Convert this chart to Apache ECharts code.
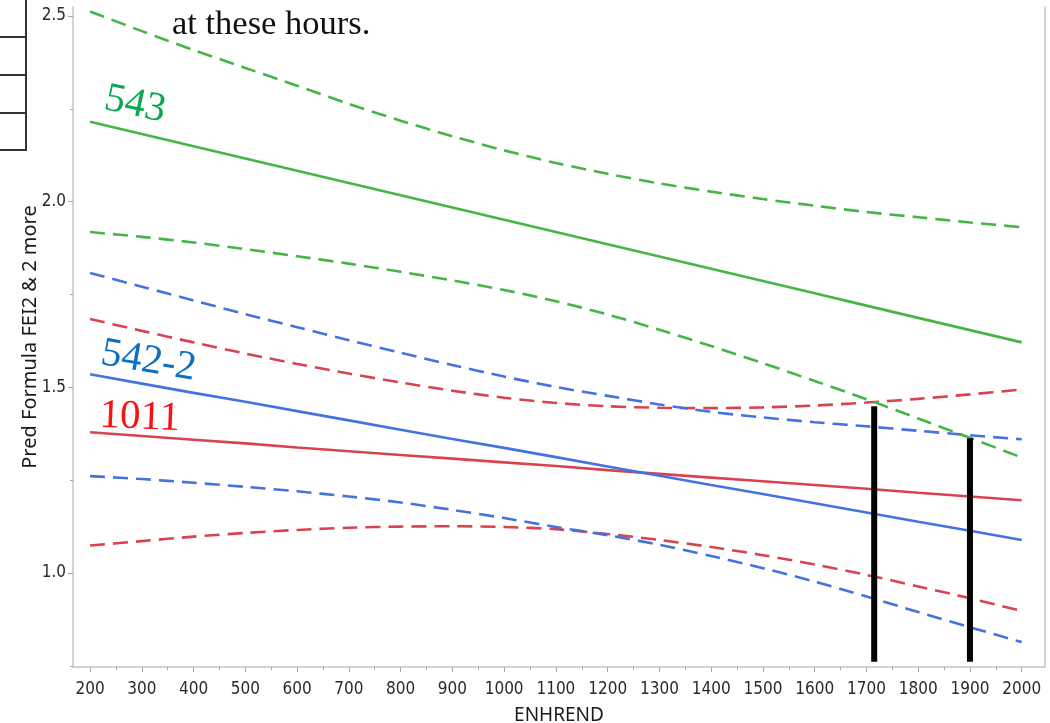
<!DOCTYPE html>
<html>
<head>
<meta charset="utf-8">
<script src="https://cdn.jsdelivr.net/npm/echarts@6/dist/echarts.min.js"></script>
<style>
html,body{margin:0;padding:0;background:#fff;}
#chart{width:1050px;height:723px;}
</style>
</head>
<body>
<div id="chart"></div>
<script>
// ENHREND values (x)
const enhrend = [200,300,400,500,600,700,800,900,1000,1100,1200,1300,1400,1500,1600,1700,1800,1900,2000];

// 543 (green): fit, upper and lower confidence curves
const green543Fit = [2.215,2.182,2.149,2.116,2.083,2.050,2.017,1.984,1.951,1.918,1.885,1.852,1.819,1.786,1.753,1.720,1.687,1.654,1.621];
const green543Upper = [2.512,2.459,2.408,2.360,2.312,2.263,2.218,2.176,2.138,2.104,2.075,2.049,2.027,2.007,1.989,1.972,1.958,1.944,1.931];
const green543Lower = [1.918,1.905,1.890,1.872,1.853,1.833,1.811,1.788,1.762,1.732,1.696,1.655,1.611,1.565,1.517,1.468,1.416,1.364,1.311];

// 542-2 (blue)
const blue5422Fit = [1.535,1.510,1.485,1.461,1.436,1.411,1.386,1.361,1.337,1.312,1.287,1.262,1.237,1.213,1.188,1.163,1.138,1.114,1.089];
const blue5422Upper = [1.808,1.771,1.734,1.697,1.662,1.627,1.593,1.560,1.529,1.501,1.477,1.454,1.434,1.419,1.406,1.395,1.383,1.371,1.360];
const blue5422Lower = [1.261,1.253,1.243,1.232,1.220,1.206,1.190,1.170,1.148,1.124,1.102,1.076,1.046,1.013,0.977,0.937,0.895,0.854,0.814];

// 1011 (red)
const red1011Fit = [1.379,1.369,1.359,1.349,1.338,1.328,1.318,1.308,1.298,1.288,1.277,1.267,1.257,1.247,1.237,1.227,1.216,1.206,1.196];
const red1011Upper = [1.684,1.652,1.621,1.591,1.563,1.537,1.513,1.491,1.472,1.458,1.449,1.445,1.444,1.446,1.451,1.459,1.469,1.481,1.494];
const red1011Lower = [1.074,1.086,1.098,1.108,1.116,1.122,1.125,1.126,1.124,1.118,1.105,1.089,1.070,1.048,1.023,0.995,0.964,0.932,0.898];

// black marker bars
const markerHours = [1715, 1900];
const markerTops = [1.449, 1.363];
const markerBottom = 0.761;

// tick labels
const xTickLabels = [200,300,400,500,600,700,800,900,1000,1100,1200,1300,1400,1500,1600,1700,1800,1900,2000];
const xMinorTicks = [250,350,450,550,650,750,850,950,1050,1150,1250,1350,1450,1550,1650,1750,1850,1950];
const yTickLabels = [1.0,1.5,2.0,2.5];
const yMinorTicks = [0.75,1.25,1.75,2.25];

const X_MIN = 167, X_MAX = 2045, Y_MIN = 0.747, Y_MAX = 2.524;
const GREEN = '#45b545', BLUE = '#4472e0', RED = '#d9434f';
const tickFont = "'Liberation Sans Narrow','DejaVu Sans Condensed',sans-serif";
const titleFont = "'Noto Sans','Liberation Sans',sans-serif";

function pts(arr){ return enhrend.map((x,i)=>[x,arr[i]]); }
function lineSeries(arr,color,dashed){
  return {type:'line', data:pts(arr), symbol:'none', smooth: dashed ? 0.3 : false, silent:true,
    lineStyle:{color:color, width: 2.6, type: dashed ? [15,8] : 'solid', cap:'butt'}, z:2};
}

const series = [
  lineSeries(red1011Upper,RED,true), lineSeries(red1011Lower,RED,true), lineSeries(red1011Fit,RED,false),
  lineSeries(blue5422Upper,BLUE,true), lineSeries(blue5422Lower,BLUE,true), lineSeries(blue5422Fit,BLUE,false),
  lineSeries(green543Upper,GREEN,true), lineSeries(green543Lower,GREEN,true), lineSeries(green543Fit,GREEN,false)
];
markerHours.forEach((h,i)=>{
  series.push({type:'line', data:[[h,markerBottom],[h,markerTops[i]]], symbol:'none', silent:true,
    lineStyle:{color:'#000', width:6, cap:'butt'}, z:5});
});

const chart = echarts.init(document.getElementById('chart'), null, {renderer:'canvas'});
const option = {
  animation:false,
  backgroundColor:'#fff',
  grid:{left:73,right:5,top:7,bottom:56,containLabel:false,outerBoundsMode:'none'},
  xAxis:[{
    type:'value', min:X_MIN, max:X_MAX, position:'bottom',
    axisLine:{show:true, lineStyle:{color:'#c6c6c6', width:1.5}},
    axisTick:{show:true, customValues:xTickLabels, length:5, lineStyle:{color:'#a8a8a8'}},
    axisLabel:{customValues:xTickLabels, margin:14, color:'#2a2a2a', fontSize:17, fontFamily:tickFont,
      formatter:(v)=>String(Math.round(v))},
    splitLine:{show:false},
    name:'ENHREND', nameLocation:'middle', nameGap:39, nameMoveOverlap:false,
    nameTextStyle:{color:'#1a1a1a', fontSize:19, fontFamily:titleFont}
  },{
    type:'value', min:X_MIN, max:X_MAX, position:'bottom',
    axisLine:{show:false},
    axisTick:{show:true, customValues:xMinorTicks, length:3, lineStyle:{color:'#a8a8a8'}},
    axisLabel:{show:false}, splitLine:{show:false}
  }],
  yAxis:[{
    type:'value', min:Y_MIN, max:Y_MAX, position:'left',
    axisLine:{show:true, lineStyle:{color:'#c6c6c6', width:1.5}},
    axisTick:{show:true, customValues:yTickLabels, length:5, lineStyle:{color:'#a8a8a8'}},
    axisLabel:{customValues:yTickLabels, margin:7, color:'#2a2a2a', fontSize:17, fontFamily:tickFont,
      formatter:(v)=>Number(v).toFixed(1)},
    splitLine:{show:false},
    name:'Pred Formula FEI2 & 2 more', nameLocation:'middle', nameGap:33, nameMoveOverlap:false,
    nameTextStyle:{color:'#1a1a1a', fontSize:20, fontFamily:titleFont}
  },{
    type:'value', min:Y_MIN, max:Y_MAX, position:'left',
    axisLine:{show:false},
    axisTick:{show:true, customValues:yMinorTicks, length:3, lineStyle:{color:'#a8a8a8'}},
    axisLabel:{show:false}, splitLine:{show:false}
  },{
    type:'value', min:Y_MIN, max:Y_MAX, position:'right',
    axisLine:{show:true, lineStyle:{color:'#c6c6c6', width:1.5}},
    axisTick:{show:false}, axisLabel:{show:false}, splitLine:{show:false}
  }],
  series:series,
  graphic:[
    // slide table fragment at top-left
    {type:'line', shape:{x1:26,y1:0,x2:26,y2:151}, style:{stroke:'#333',lineWidth:2}, z:10},
    {type:'line', shape:{x1:0,y1:37,x2:27,y2:37}, style:{stroke:'#333',lineWidth:2}, z:10},
    {type:'line', shape:{x1:0,y1:75,x2:27,y2:75}, style:{stroke:'#333',lineWidth:2}, z:10},
    {type:'line', shape:{x1:0,y1:113,x2:27,y2:113}, style:{stroke:'#333',lineWidth:2}, z:10},
    {type:'line', shape:{x1:0,y1:150,x2:27,y2:150}, style:{stroke:'#333',lineWidth:2}, z:10},
    {type:'text', x:172, y:36, z:10,
      style:{text:'at these hours.', x:0, y:-11, verticalAlign:'middle', align:'left',
        font:"34.5px 'Liberation Serif', serif", fill:'#111'}},
    {type:'text', x:102, y:112, rotation:-0.21, z:10,
      style:{text:'543', x:0, y:-14, verticalAlign:'middle', align:'left',
        font:"41px 'Liberation Serif', serif", fill:'#0aa650'}},
    {type:'text', x:99, y:367, rotation:-0.17, z:10,
      style:{text:'542-2', x:0, y:-14, verticalAlign:'middle', align:'left',
        font:"41px 'Liberation Serif', serif", fill:'#0d70c0'}},
    {type:'text', x:99, y:430, rotation:-0.04, z:10,
      style:{text:'1011', x:0, y:-14, verticalAlign:'middle', align:'left',
        font:"41px 'Liberation Serif', serif", fill:'#ff1010'}}
  ]
};
chart.setOption(option);
</script>
</body>
</html>
